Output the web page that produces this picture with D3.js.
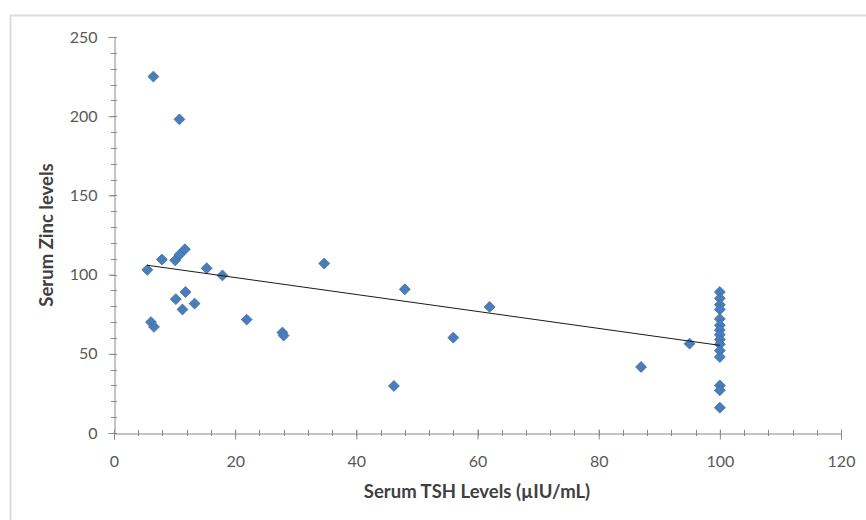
<!DOCTYPE html>
<html>
<head>
<meta charset="utf-8">
<script src="https://cdn.jsdelivr.net/npm/d3@7"></script>
<style>
body { margin: 0; background: #fff; }
text { font-family: Lato, "Open Sans", sans-serif; }
</style>
</head>
<body>
<div id="container"></div>
<script>
// TSH (x) and zinc (y) readings
var tshValues = [6.5, 10.8, 5.5, 7.9, 10.1, 10.8, 11.7, 15.3, 17.9, 10.2, 11.8, 11.3, 13.3,
	6.1, 6.6, 21.9, 27.8, 28.0, 34.7, 48, 62, 56, 46.2, 95, 87,
	100, 100, 100, 100, 100, 100, 100, 100, 100, 100, 100, 100, 100, 100, 100];
var zincValues = [225, 198, 103, 109.5, 109, 112.5, 116, 104, 99.5, 84.5, 89, 78, 81.7,
	70, 67, 71.6, 63.4, 61.5, 107, 90.7, 79.6, 60.2, 29.7, 56.4, 41.7,
	89, 85, 81, 78, 72, 68, 65, 62, 59, 56, 52, 48, 30, 27, 16];

var xTicks = [0, 20, 40, 60, 80, 100, 120];
var yTicks = [0, 50, 100, 150, 200, 250];
var xMinor = d3.range(0, 121, 4);
var yMinor = d3.range(0, 251, 10);

var width = 866, height = 520;
var margin = {left: 114, right: 25, top: 37, bottom: 87};

var svg = d3.select("#container").append("svg")
	.attr("width", width)
	.attr("height", height);

// outer chart border (runs off the right/bottom edge)
svg.append("rect")
	.attr("x", 10.5).attr("y", 15.5)
	.attr("width", 900).attr("height", 600)
	.attr("fill", "none")
	.attr("stroke", "#dcdcdc")
	.attr("stroke-width", 2);

var x = d3.scaleLinear().domain([0, 120]).range([margin.left, width - margin.right]);
var y = d3.scaleLinear().domain([0, 250]).range([height - margin.bottom, margin.top]);

var axisColor = "#898989";

// minor ticks
svg.append("g").selectAll("line")
	.data(xMinor)
	.enter().append("line")
	.attr("x1", function(d) { return Math.round(x(d)) + 0.5; })
	.attr("x2", function(d) { return Math.round(x(d)) + 0.5; })
	.attr("y1", y(0) - 3).attr("y2", y(0) + 3)
	.attr("stroke", axisColor);

svg.append("g").selectAll("line")
	.data(yMinor)
	.enter().append("line")
	.attr("y1", function(d) { return Math.round(y(d)) + 0.5; })
	.attr("y2", function(d) { return Math.round(y(d)) + 0.5; })
	.attr("x1", x(0) - 3).attr("x2", x(0) + 3)
	.attr("stroke", axisColor);

var xAxis = svg.append("g")
	.attr("transform", "translate(0," + (Math.round(y(0)) + 0.5) + ")")
	.call(d3.axisBottom(x).tickValues(xTicks).tickSize(6).tickPadding(16));

var yAxis = svg.append("g")
	.attr("transform", "translate(" + (Math.round(x(0)) + 0.5) + ",0)")
	.call(d3.axisLeft(y).tickValues(yTicks).tickSize(6).tickPadding(11));

[xAxis, yAxis].forEach(function(a) {
	a.select(".domain").attr("stroke", axisColor);
	a.selectAll(".tick line").attr("stroke", axisColor);
	a.selectAll(".tick text")
		.attr("fill", "#595959")
		.style("font-size", "16px")
		.style("font-family", "Lato, 'Open Sans', sans-serif");
});
xAxis.selectAll(".tick line").attr("y1", -4);

// linear trend line across the data range
var n = tshValues.length;
var mx = d3.mean(tshValues), my = d3.mean(zincValues);
var sxy = 0, sxx = 0;
for (var i = 0; i < n; i++) {
	sxy += (tshValues[i] - mx) * (zincValues[i] - my);
	sxx += (tshValues[i] - mx) * (tshValues[i] - mx);
}
var slope = sxy / sxx, intercept = my - slope * mx;
var xExt = d3.extent(tshValues);

var points = tshValues.map(function(v, i) { return {tsh: v, zinc: zincValues[i]}; });

svg.append("g").selectAll("path")
	.data(points)
	.enter().append("path")
	.attr("d", d3.symbol().type(d3.symbolDiamond2).size(76))
	.attr("transform", function(d) { return "translate(" + x(d.tsh) + "," + y(d.zinc) + ")"; })
	.attr("fill", "#4a7ebb")
	.attr("stroke", "#3d6ca3")
	.attr("stroke-width", 0.8);

svg.append("line")
	.attr("x1", x(xExt[0])).attr("y1", y(intercept + slope * xExt[0]))
	.attr("x2", x(xExt[1])).attr("y2", y(intercept + slope * xExt[1]))
	.attr("stroke", "#1a1a1a")
	.attr("stroke-width", 1);

// axis titles
svg.append("text")
	.attr("x", 477).attr("y", 498)
	.attr("text-anchor", "middle")
	.attr("fill", "#404040")
	.style("font-size", "18.5px")
	.style("font-weight", "bold")
	.text("Serum TSH Levels (µIU/mL)");

svg.append("text")
	.attr("transform", "translate(53,235) rotate(-90)")
	.attr("text-anchor", "middle")
	.attr("fill", "#404040")
	.style("font-size", "18.5px")
	.style("font-weight", "bold")
	.text("Serum Zinc levels");
</script>
</body>
</html>
